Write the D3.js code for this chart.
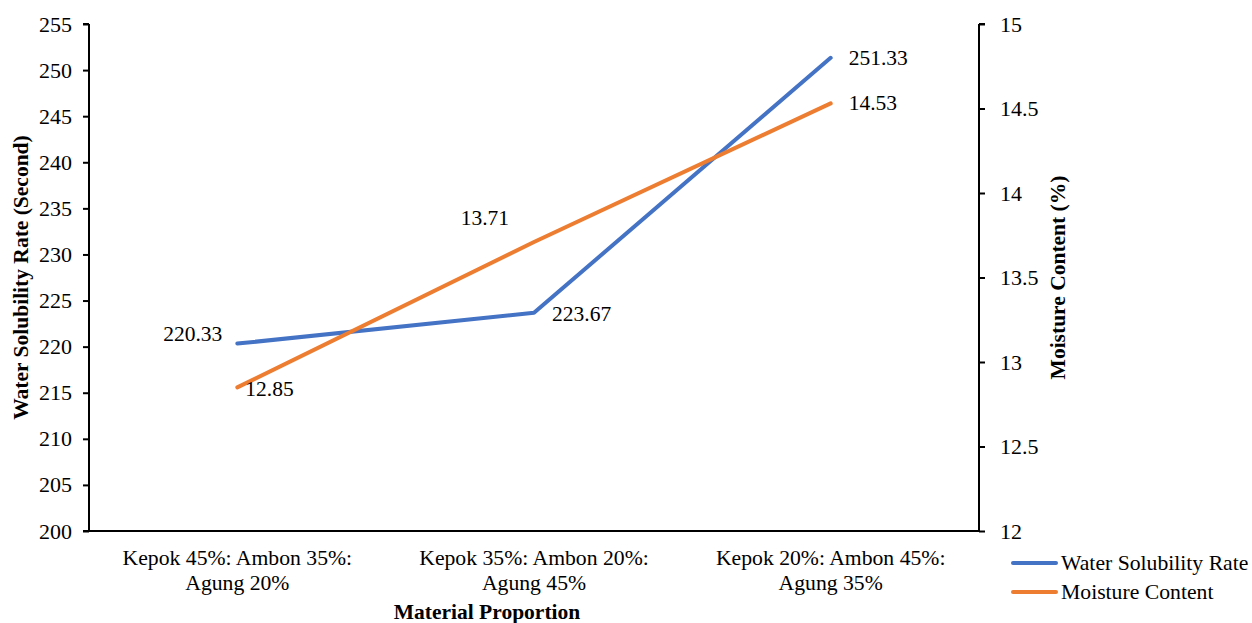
<!DOCTYPE html>
<html>
<head>
<meta charset="utf-8">
<script src="https://cdn.jsdelivr.net/npm/d3@7"></script>
<style>
  body { margin: 0; background: #fff; }
  svg text { font-family: "Liberation Serif", "Times New Roman", serif; fill: #000; }
</style>
</head>
<body>
<svg id="chart" width="1252" height="623"></svg>
<script>
// Material proportions and measured values
const categories = [
  ["Kepok 45%: Ambon 35%:", "Agung 20%"],
  ["Kepok 35%: Ambon 20%:", "Agung 45%"],
  ["Kepok 20%: Ambon 45%:", "Agung 35%"]
];
const solubility = [220.33, 223.67, 251.33];
const moisture = [12.85, 13.71, 14.53];
const leftTicks = [200, 205, 210, 215, 220, 225, 230, 235, 240, 245, 250, 255];
const rightTicks = [12, 12.5, 13, 13.5, 14, 14.5, 15];
const seriesNames = ["Water Solubility Rate", "Moisture Content"];
const colors = ["#4472C4", "#ED7D31"];

const svg = d3.select("#chart");
const m = { left: 89, right: 979, top: 24, bottom: 531 };

const x = d3.scaleBand().domain(d3.range(categories.length)).range([m.left, m.right]);
const yL = d3.scaleLinear().domain([200, 255]).range([m.bottom, m.top]);
const yR = d3.scaleLinear().domain([12, 15]).range([m.bottom, m.top]);
const cx = i => x(i) + x.bandwidth() / 2;

// Axes
const left = svg.append("g").attr("transform", `translate(${m.left},0)`)
  .call(d3.axisLeft(yL).tickValues(leftTicks).tickSize(6).tickPadding(11));
const right = svg.append("g").attr("transform", `translate(${m.right},0)`)
  .call(d3.axisRight(yR).tickValues(rightTicks).tickFormat(d3.format("~g")).tickSize(6).tickPadding(15));
const bottom = svg.append("g").attr("transform", `translate(0,${m.bottom})`)
  .call(d3.axisBottom(x).tickSize(0).tickFormat(""));

[left, right, bottom].forEach(g => {
  g.attr("font-family", null).attr("font-size", null);
  g.selectAll(".domain").attr("stroke", "#000").attr("stroke-width", 2);
  g.selectAll(".tick line").attr("stroke", "#000").attr("stroke-width", 2);
  g.selectAll(".tick text").style("font-size", "22px");
});
left.select(".domain").attr("d", `M0,${m.bottom}V${m.top}M-6,${m.top}H0`);
right.select(".domain").attr("d", `M0,${m.bottom}V${m.top}M6,${m.top}H0`);
bottom.select(".domain").attr("d", `M${m.left - 6},0H${m.right}`);

// Category labels (two lines)
categories.forEach((lines, i) => {
  const t = svg.append("text").attr("x", cx(i)).attr("text-anchor", "middle").style("font-size", "21.7px");
  lines.forEach((l, j) => t.append("tspan").attr("x", cx(i)).attr("y", 565 + j * 25).text(l));
});

// Axis titles
svg.append("text").attr("x", 487).attr("y", 619).attr("text-anchor", "middle")
  .style("font-size", "21.5px").style("font-weight", "bold").text("Material Proportion");
svg.append("text").attr("transform", `translate(28,${(m.top + m.bottom) / 2}) rotate(-90)`)
  .attr("text-anchor", "middle").style("font-size", "21.5px").style("font-weight", "bold")
  .text("Water Solubility Rate (Second)");
svg.append("text").attr("transform", `translate(1065,${(m.top + m.bottom) / 2}) rotate(-90)`)
  .attr("text-anchor", "middle").style("font-size", "21.5px").style("font-weight", "bold")
  .text("Moisture Content (%)");

// Lines
const lineL = d3.line().x((d, i) => cx(i)).y(d => yL(d));
const lineR = d3.line().x((d, i) => cx(i)).y(d => yR(d));
svg.append("path").datum(solubility).attr("d", lineL).attr("fill", "none")
  .attr("stroke", colors[0]).attr("stroke-width", 4).attr("stroke-linecap", "round").attr("stroke-linejoin", "round");
svg.append("path").datum(moisture).attr("d", lineR).attr("fill", "none")
  .attr("stroke", colors[1]).attr("stroke-width", 4).attr("stroke-linecap", "round").attr("stroke-linejoin", "round");

// Data labels
const fmt = d3.format(".2f");
const solOff = [[-15, -3, "end"], [18, 8, "start"], [18, 7, "start"]];
const moiOff = [[8, 9, "start"], [-25, -17, "end"], [18, 7, "start"]];
solubility.forEach((v, i) => {
  svg.append("text").attr("x", cx(i) + solOff[i][0]).attr("y", yL(v) + solOff[i][1])
    .attr("text-anchor", solOff[i][2]).style("font-size", "21.5px").text(fmt(v));
});
moisture.forEach((v, i) => {
  svg.append("text").attr("x", cx(i) + moiOff[i][0]).attr("y", yR(v) + moiOff[i][1])
    .attr("text-anchor", moiOff[i][2]).style("font-size", "21.5px").text(fmt(v));
});

// Legend
seriesNames.forEach((n, i) => {
  const y = 563 + i * 29;
  svg.append("line").attr("x1", 1013).attr("x2", 1056).attr("y1", y).attr("y2", y)
    .attr("stroke", colors[i]).attr("stroke-width", 4).attr("stroke-linecap", "round");
  svg.append("text").attr("x", 1061).attr("y", y + 7).style("font-size", "21.7px").text(n);
});
</script>
</body>
</html>
